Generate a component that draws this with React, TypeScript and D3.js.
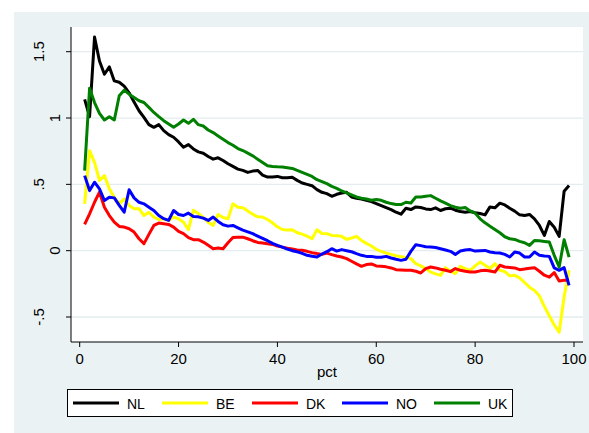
import React from "react";
import * as d3 from "d3";

const pct: number[] = d3.range(1, 100);

const NL = [1.14,1.01,1.61,1.43,1.33,1.385,1.28,1.27,1.24,1.19,1.12,1.055,1.005,0.95,0.93,0.95,0.905,0.875,0.855,0.82,0.78,0.8,0.767,0.745,0.735,0.71,0.69,0.7,0.68,0.655,0.635,0.615,0.605,0.59,0.6,0.605,0.57,0.555,0.555,0.56,0.55,0.55,0.553,0.53,0.51,0.5,0.49,0.46,0.44,0.43,0.41,0.425,0.435,0.44,0.405,0.395,0.39,0.38,0.37,0.355,0.34,0.325,0.31,0.29,0.275,0.32,0.31,0.33,0.325,0.315,0.31,0.323,0.303,0.316,0.32,0.305,0.295,0.29,0.295,0.286,0.28,0.27,0.33,0.323,0.358,0.345,0.32,0.298,0.27,0.265,0.273,0.24,0.19,0.115,0.22,0.177,0.108,0.448,0.491];

const BE = [0.353,0.754,0.666,0.529,0.566,0.466,0.403,0.353,0.391,0.341,0.316,0.316,0.265,0.29,0.253,0.235,0.24,0.228,0.253,0.241,0.215,0.158,0.305,0.28,0.25,0.215,0.19,0.273,0.25,0.24,0.353,0.328,0.323,0.3,0.275,0.255,0.253,0.235,0.21,0.18,0.16,0.155,0.158,0.135,0.125,0.11,0.09,0.158,0.13,0.128,0.115,0.112,0.108,0.085,0.095,0.108,0.077,0.055,0.035,0.01,-0.005,-0.018,-0.028,-0.038,-0.045,-0.052,-0.06,-0.098,-0.115,-0.135,-0.161,-0.175,-0.186,-0.128,-0.155,-0.173,-0.118,-0.135,-0.148,-0.115,-0.086,-0.11,-0.135,-0.098,-0.148,-0.158,-0.19,-0.186,-0.205,-0.24,-0.275,-0.3,-0.34,-0.42,-0.49,-0.56,-0.615,-0.349,-0.148];

const DK = [0.198,0.278,0.365,0.441,0.328,0.265,0.215,0.183,0.178,0.165,0.14,0.09,0.053,0.123,0.19,0.208,0.203,0.198,0.178,0.145,0.128,0.098,0.083,0.083,0.065,0.04,0.015,0.02,0.015,0.06,0.1,0.102,0.102,0.09,0.075,0.062,0.058,0.052,0.047,0.035,0.027,0.018,0.012,0.006,0.003,-0.005,-0.015,-0.022,-0.028,-0.018,-0.03,-0.04,-0.048,-0.06,-0.08,-0.1,-0.118,-0.105,-0.1,-0.115,-0.118,-0.122,-0.13,-0.143,-0.145,-0.148,-0.148,-0.155,-0.168,-0.135,-0.123,-0.13,-0.14,-0.148,-0.158,-0.135,-0.148,-0.155,-0.161,-0.161,-0.152,-0.148,-0.153,-0.161,-0.11,-0.123,-0.126,-0.13,-0.143,-0.138,-0.132,-0.128,-0.155,-0.185,-0.2,-0.165,-0.228,-0.223,-0.223];

const NO = [0.566,0.453,0.516,0.466,0.378,0.403,0.398,0.341,0.29,0.459,0.398,0.365,0.353,0.328,0.303,0.265,0.241,0.228,0.303,0.273,0.265,0.283,0.258,0.255,0.245,0.228,0.253,0.22,0.195,0.185,0.19,0.172,0.155,0.142,0.128,0.11,0.092,0.075,0.055,0.04,0.027,0.012,0.0,-0.008,-0.02,-0.035,-0.042,-0.048,-0.025,-0.008,0.015,-0.003,0.008,0.0,-0.008,-0.022,-0.035,-0.043,-0.043,-0.05,-0.05,-0.043,-0.055,-0.065,-0.073,-0.065,-0.005,0.045,0.038,0.03,0.027,0.024,0.015,0.005,-0.005,-0.028,-0.003,0.005,0.008,-0.003,0.0,0.002,-0.01,-0.015,-0.018,-0.028,-0.048,-0.01,-0.018,-0.048,-0.048,-0.01,-0.035,-0.04,-0.043,-0.13,-0.148,-0.128,-0.261];

const UK = [0.604,1.225,1.117,1.035,0.985,1.01,0.985,1.168,1.21,1.18,1.155,1.13,1.117,1.08,1.042,1.01,0.98,0.955,0.93,0.955,0.985,0.96,0.99,0.95,0.94,0.91,0.89,0.865,0.84,0.815,0.795,0.77,0.755,0.735,0.715,0.69,0.665,0.64,0.635,0.632,0.63,0.625,0.62,0.605,0.59,0.575,0.56,0.535,0.52,0.505,0.485,0.47,0.45,0.435,0.42,0.405,0.395,0.39,0.38,0.385,0.38,0.365,0.355,0.348,0.348,0.365,0.36,0.405,0.405,0.41,0.415,0.395,0.375,0.358,0.34,0.328,0.32,0.325,0.3,0.283,0.24,0.21,0.185,0.16,0.135,0.105,0.09,0.085,0.07,0.06,0.04,0.077,0.074,0.07,0.065,-0.035,-0.123,0.083,-0.048];

const seriesNames = ["NL", "BE", "DK", "NO", "UK"];
const seriesColors = ["#000000", "#FFFF00", "#FF0000", "#0000FF", "#008000"];
const seriesValues = [NL, BE, DK, NO, UK];

const yTicks = [-0.5, 0, 0.5, 1, 1.5];
const yTickLabels = ["-.5", "0", ".5", "1", "1.5"];
const xTicks = [0, 20, 40, 60, 80, 100];
const xTitle = "pct";

const W = 589;
const H = 433;
const FONT = "'Liberation Sans', Arial, sans-serif";

export default function App() {
  const plotL = 71, plotR = 583, plotT = 27, plotB = 342;
  const x = d3.scaleLinear().domain([0, 100]).range([79.7, 574]);
  const y = d3.scaleLinear().domain([-0.5, 1.5]).range([317, 51.7]);

  const line = d3
    .line<[number, number]>()
    .x((d) => x(d[0]))
    .y((d) => y(d[1]));

  const legendItemX = [73, 162, 252, 342, 434];

  return (
    <svg
      width={W}
      height={H}
      style={{ position: "absolute", left: 0, top: 0 }}
      fontFamily={FONT}
    >
      <rect x={0} y={0} width={W} height={H} fill="#ffffff" />
      <rect x={14} y={12} width={W - 14} height={H - 12} fill="#EAF2F3" />
      <rect x={plotL} y={plotT} width={plotR - plotL} height={plotB - plotT} fill="#ffffff" />

      {yTicks.map((t) => (
        <line
          key={"g" + t}
          x1={plotL}
          x2={plotR}
          y1={y(t)}
          y2={y(t)}
          stroke="#E3ECEE"
          strokeWidth={1.3}
        />
      ))}

      {seriesValues.map((vals, i) => (
        <path
          key={seriesNames[i]}
          d={line(pct.map((p, j) => [p, vals[j]] as [number, number])) || ""}
          fill="none"
          stroke={seriesColors[i]}
          strokeWidth={3}
          strokeLinejoin="round"
        />
      ))}

      {/* y axis */}
      <line x1={plotL} x2={plotL} y1={plotT} y2={plotB} stroke="#000" strokeWidth={1} />
      {yTicks.map((t, i) => {
        const lbl = yTickLabels[i];
        const bx = lbl.includes(".") ? 44 : 60;
        return (
          <g key={"yt" + t}>
            <line x1={plotL - 5} x2={plotL} y1={y(t)} y2={y(t)} stroke="#000" />
            <text
              transform={`translate(${bx},${y(t)}) rotate(-90)`}
              textAnchor="middle"
              fontSize={15}
              fill="#000"
            >
              {lbl}
            </text>
          </g>
        );
      })}

      {/* x axis */}
      <line x1={plotL} x2={plotR} y1={plotB} y2={plotB} stroke="#000" strokeWidth={1} />
      {xTicks.map((t) => (
        <g key={"xt" + t}>
          <line x1={x(t)} x2={x(t)} y1={plotB} y2={plotB + 5} stroke="#000" />
          <text x={x(t)} y={364} textAnchor="middle" fontSize={15} fill="#000">
            {t}
          </text>
        </g>
      ))}
      <text x={(plotL + plotR) / 2} y={377} textAnchor="middle" fontSize={15} fill="#000">
        {xTitle}
      </text>

      {/* legend */}
      <rect x={67.5} y={389.5} width={445} height={27} fill="#ffffff" stroke="#000" strokeWidth={1} />
      {seriesNames.map((n, i) => (
        <g key={"lg" + n}>
          <line
            x1={legendItemX[i]}
            x2={legendItemX[i] + 46}
            y1={403}
            y2={403}
            stroke={seriesColors[i]}
            strokeWidth={3}
          />
          <text x={legendItemX[i] + 54} y={408.5} fontSize={14} fill="#000">
            {n}
          </text>
        </g>
      ))}
    </svg>
  );
}
